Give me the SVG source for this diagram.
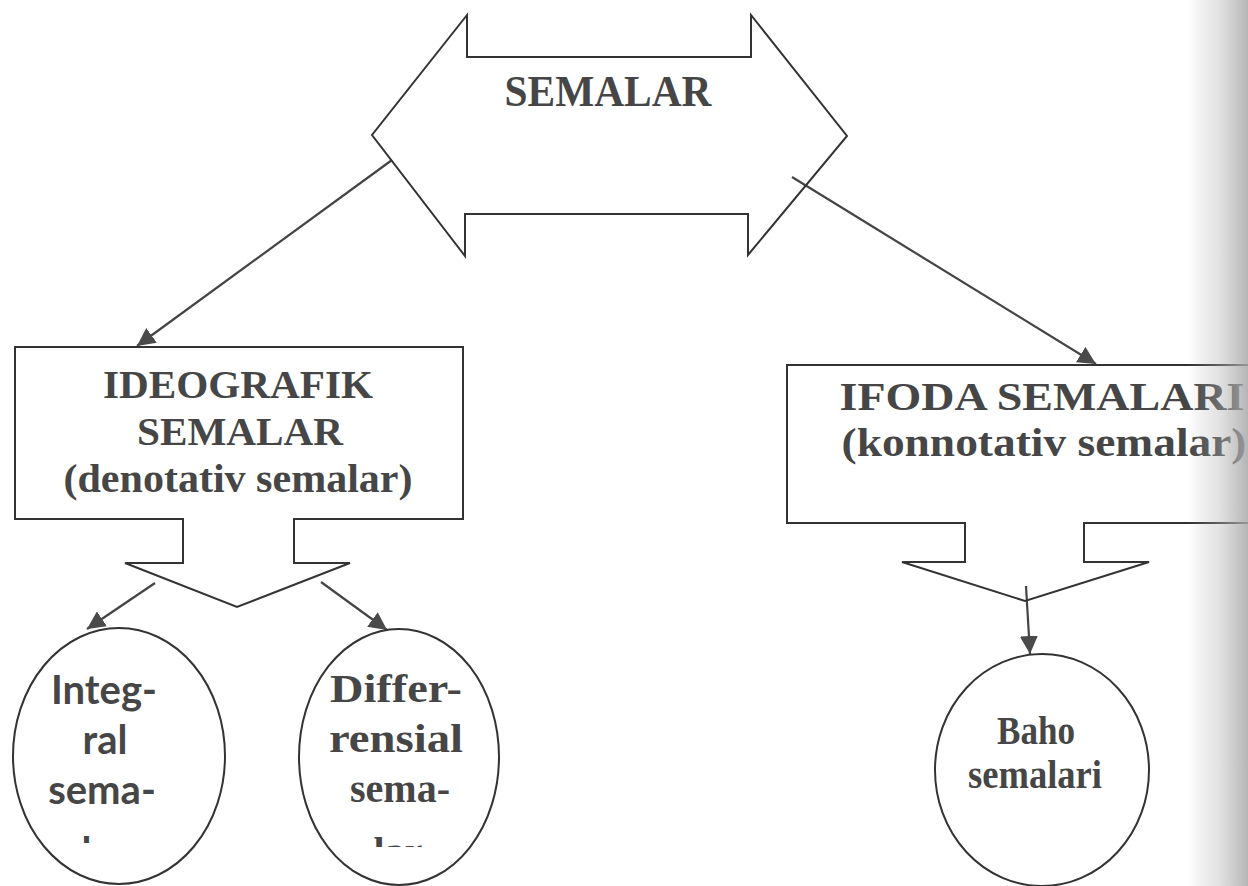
<svg xmlns="http://www.w3.org/2000/svg" width="1248" height="886" viewBox="0 0 1248 886">
<style>
.shape{fill:none;stroke:#333;stroke-width:2;stroke-linejoin:miter}
.conn{stroke:#444;stroke-width:2.2;fill:none}
.serif{font-family:"Liberation Serif","Times New Roman",serif;font-weight:bold;fill:#464646;text-anchor:middle}
.sans{font-family:Lato,"Open Sans","Liberation Sans",sans-serif;font-weight:bold;fill:#464646;text-anchor:middle}
</style>
<defs>
<marker id="ahb" viewBox="0 0 10 10" refX="10" refY="5" markerWidth="18" markerHeight="18" markerUnits="userSpaceOnUse" orient="auto">
<path d="M0,0 L10,5 L0,10 z" fill="#4a4a4a"/>
</marker>
<clipPath id="clipInt"><rect x="0" y="600" width="240" height="243"/></clipPath>
<clipPath id="clipDif"><rect x="290" y="600" width="220" height="247"/></clipPath>
<linearGradient id="shadow" x1="0" y1="0" x2="1" y2="0">
<stop offset="0" stop-color="#9a9a9a" stop-opacity="0"/>
<stop offset="0.5" stop-color="#b0b0b0" stop-opacity="0.35"/>
<stop offset="1" stop-color="#a8a8a8" stop-opacity="0.85"/>
</linearGradient>
</defs>
<rect width="1248" height="886" fill="#ffffff"/>

<g id="connectors">
<line class="conn" x1="392" y1="160" x2="137" y2="346" marker-end="url(#ahb)"/>
<line class="conn" x1="792" y1="177" x2="1096" y2="364" marker-end="url(#ahb)"/>
<line class="conn" x1="155" y1="583" x2="87" y2="629" marker-end="url(#ahb)"/>
<line class="conn" x1="321" y1="582" x2="387" y2="630" marker-end="url(#ahb)"/>
<line class="conn" x1="1026" y1="586" x2="1030" y2="654" marker-end="url(#ahb)"/>
</g>

<g id="semalar">
<polygon class="shape" points="467,15 467,57 751,57 751,15 847,136 748,255 748,214 465,214 465,256 372,135"/>
<text class="serif" x="608" y="106" font-size="45" textLength="207" lengthAdjust="spacingAndGlyphs">SEMALAR</text>
</g>

<g id="ideografik">
<polygon class="shape" points="15,347 463,347 463,519 294,519 294,563 350,563 237,607 125,563 183,563 183,519 15,519"/>
<text class="serif" x="238" y="398" font-size="41" textLength="270" lengthAdjust="spacingAndGlyphs">IDEOGRAFIK</text>
<text class="serif" x="240" y="445" font-size="41" textLength="206" lengthAdjust="spacingAndGlyphs">SEMALAR</text>
<text class="serif" x="238" y="492" font-size="41" textLength="349" lengthAdjust="spacingAndGlyphs">(denotativ semalar)</text>
</g>

<g id="ifoda">
<polyline class="shape" points="1250,365 787,365 787,523 965,523 965,562 902,562 1025,601 1149,562 1084,562 1084,523 1250,523"/>
<text class="serif" x="1042" y="410" font-size="40" textLength="405" lengthAdjust="spacingAndGlyphs">IFODA SEMALARI</text>
<text class="serif" x="1044" y="456" font-size="40" textLength="405" lengthAdjust="spacingAndGlyphs">(konnotativ semalar)</text>
</g>

<g id="integral">
<ellipse class="shape" cx="119" cy="756" rx="106" ry="128"/>
<g clip-path="url(#clipInt)">
<text class="sans" x="104" y="704" font-size="40">Integ-</text>
<text class="sans" x="105" y="754" font-size="40">ral</text>
<text class="sans" x="102" y="804" font-size="40">sema-</text>
<text class="sans" x="104" y="866" font-size="40">lar</text>
</g>
</g>

<g id="differensial">
<ellipse class="shape" cx="399" cy="757" rx="100" ry="128"/>
<g clip-path="url(#clipDif)">
<text class="serif" x="396" y="702" font-size="40" textLength="132" lengthAdjust="spacingAndGlyphs">Differ-</text>
<text class="serif" x="396" y="752" font-size="40" textLength="134" lengthAdjust="spacingAndGlyphs">rensial</text>
<text class="serif" x="400" y="802" font-size="40" textLength="100" lengthAdjust="spacingAndGlyphs">sema-</text>
<text class="serif" x="398" y="865" font-size="40">lar</text>
</g>
</g>

<g id="baho">
<ellipse class="shape" cx="1042" cy="770" rx="107" ry="116"/>
<text class="serif" x="1036" y="744" font-size="40" textLength="78" lengthAdjust="spacingAndGlyphs">Baho</text>
<text class="serif" x="1035" y="788" font-size="40" textLength="134" lengthAdjust="spacingAndGlyphs">semalari</text>
</g>

<rect x="1188" y="0" width="60" height="886" fill="url(#shadow)"/>
</svg>
